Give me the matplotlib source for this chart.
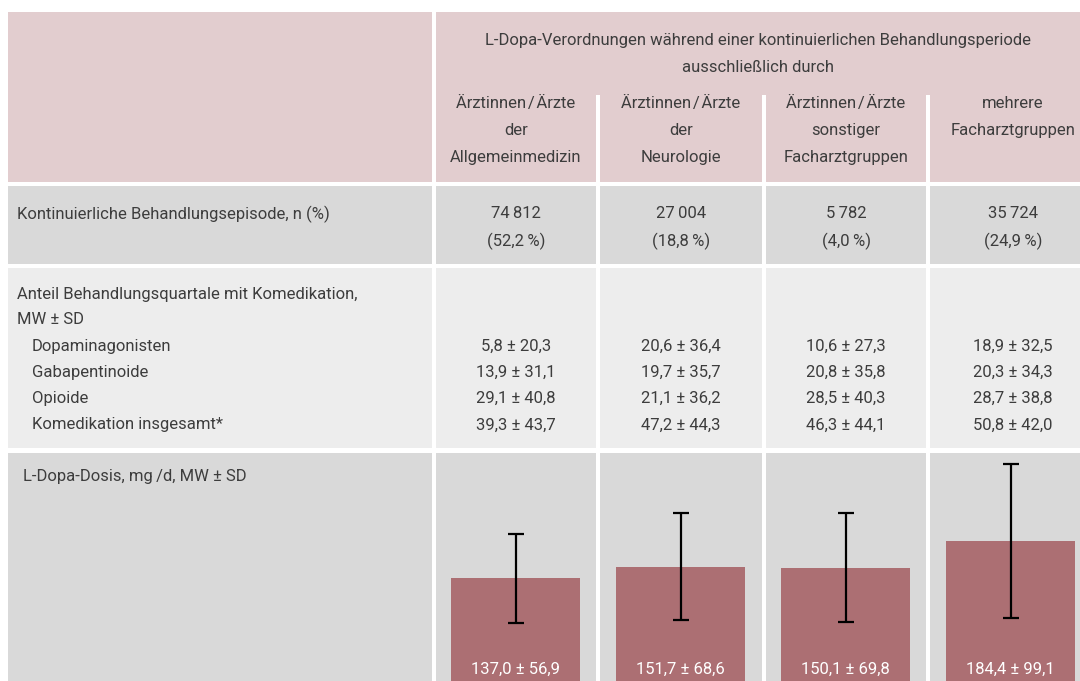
import matplotlib.pyplot as plt
from matplotlib.patches import Rectangle

plt.rcParams['font.family'] = ['Roboto', 'DejaVu Sans']

# --- data ---
title = "L-Dopa-Verordnungen während einer kontinuierlichen Behandlungsperiode\nausschließlich durch"
groups = ["Ärztinnen\u200a/\u200aÄrzte\nder\nAllgemeinmedizin",
          "Ärztinnen\u200a/\u200aÄrzte\nder\nNeurologie",
          "Ärztinnen\u200a/\u200aÄrzte\nsonstiger\nFacharztgruppen",
          "mehrere\nFacharztgruppen"]
episode_label = "Kontinuierliche Behandlungsepisode, n (%)"
episode_n = [74812, 27004, 5782, 35724]
episode_pct = [52.2, 18.8, 4.0, 24.9]

comed_title = "Anteil Behandlungsquartale mit Komedikation,\nMW ± SD"
comed_names = ["Dopaminagonisten", "Gabapentinoide", "Opioide", "Komedikation insgesamt*"]
dopa_mean = [5.8, 20.6, 10.6, 18.9]
dopa_sd = [20.3, 36.4, 27.3, 32.5]
gaba_mean = [13.9, 19.7, 20.8, 20.3]
gaba_sd = [31.1, 35.7, 35.8, 34.3]
opio_mean = [29.1, 21.1, 28.5, 28.7]
opio_sd = [40.8, 36.2, 40.3, 38.8]
total_mean = [39.3, 47.2, 46.3, 50.8]
total_sd = [43.7, 44.3, 44.1, 42.0]

dose_label = "L-Dopa-Dosis, mg\u2009/d, MW ± SD"
dose_mean = [137.0, 151.7, 150.1, 184.4]
dose_sd = [56.9, 68.6, 69.8, 99.1]

PINK = "#e2cdcf"
GRAY = "#d9d9d9"
LIGHT = "#ededed"
BAR = "#ac6f73"
TXT = "#3d3d3d"
FS = 12


def de(v):
    return f"{v:.1f}".replace(".", ",")


def thousands(n):
    return f"{n:,}".replace(",", "\u2009")


W, H = 1080, 681
fig = plt.figure(figsize=(W / 100, H / 100), dpi=100)
ax = fig.add_axes([0, 0, 1, 1])
ax.set_xlim(0, W)
ax.set_ylim(H, 0)
ax.axis("off")

col_x = [436, 600, 766, 930]
col_w = [160, 162, 160, 166]
centers = [x + w / 2 for x, w in zip(col_x, col_w)]

# header
ax.add_patch(Rectangle((8, 12), 424, 170, color=PINK, lw=0))
ax.add_patch(Rectangle((436, 12), 660, 170, color=PINK, lw=0))
for x in col_x[1:]:
    ax.add_patch(Rectangle((x - 4, 95), 4, 87, color="white", lw=0))
ax.text(758, 54, title, ha="center", va="center", fontsize=FS, color=TXT, linespacing=2.0)
for c, g in zip(centers, groups):
    ax.text(c, 96, g, ha="center", va="top", fontsize=FS, color=TXT, linespacing=2.0)

# body rows
rows = [(186, 78, GRAY), (268, 180, LIGHT), (453, 240, GRAY)]
for y, h, col in rows:
    ax.add_patch(Rectangle((8, y), 424, h, color=col, lw=0))
    for x, w in zip(col_x, col_w):
        ax.add_patch(Rectangle((x, y), w, h, color=col, lw=0))

ax.text(17, 214, episode_label, ha="left", va="center", fontsize=FS, color=TXT)
for c, n, p in zip(centers, episode_n, episode_pct):
    ax.text(c, 214, thousands(n), ha="center", va="center", fontsize=FS, color=TXT)
    ax.text(c, 241, "(" + de(p) + "\u2009%)", ha="center", va="center", fontsize=FS, color=TXT)

ax.text(17, 307, comed_title, ha="left", va="center", fontsize=FS, color=TXT, linespacing=1.9)
comed_rows = [(dopa_mean, dopa_sd), (gaba_mean, gaba_sd), (opio_mean, opio_sd), (total_mean, total_sd)]
for k, (name, (m, s)) in enumerate(zip(comed_names, comed_rows)):
    y = 346 + k * 26.3
    ax.text(32, y, name, ha="left", va="center", fontsize=FS, color=TXT)
    for c, mm, ss in zip(centers, m, s):
        ax.text(c, y, de(mm) + " ± " + de(ss), ha="center", va="center", fontsize=FS, color=TXT)

ax.text(23, 477, dose_label, ha="left", va="center", fontsize=FS, color=TXT)

# bar chart in last row: 0.78 px per mg/d, baseline at y=685 px
x0, x1 = 433, 1093
ymax = 300
bottom_px = 685
height_px = ymax * 0.78
bax = fig.add_axes([x0 / W, (H - bottom_px) / H, (x1 - x0) / W, height_px / H])
bax.set_xlim(-0.5, 3.5)
bax.set_ylim(0, ymax)
bax.axis("off")
xs = range(len(dose_mean))
bax.bar(xs, dose_mean, width=0.78, color=BAR)
bax.errorbar(xs, dose_mean, yerr=dose_sd, fmt="none", ecolor="black",
             elinewidth=1.6, capsize=6, capthick=1.6)
for i, (m, s) in enumerate(zip(dose_mean, dose_sd)):
    bax.annotate(de(m) + " ± " + de(s), xy=(i, 0), xytext=(0, 11.5), textcoords="offset points",
                 ha="center", va="center", fontsize=FS, color="white")

fig.savefig("out.png", dpi=100)
